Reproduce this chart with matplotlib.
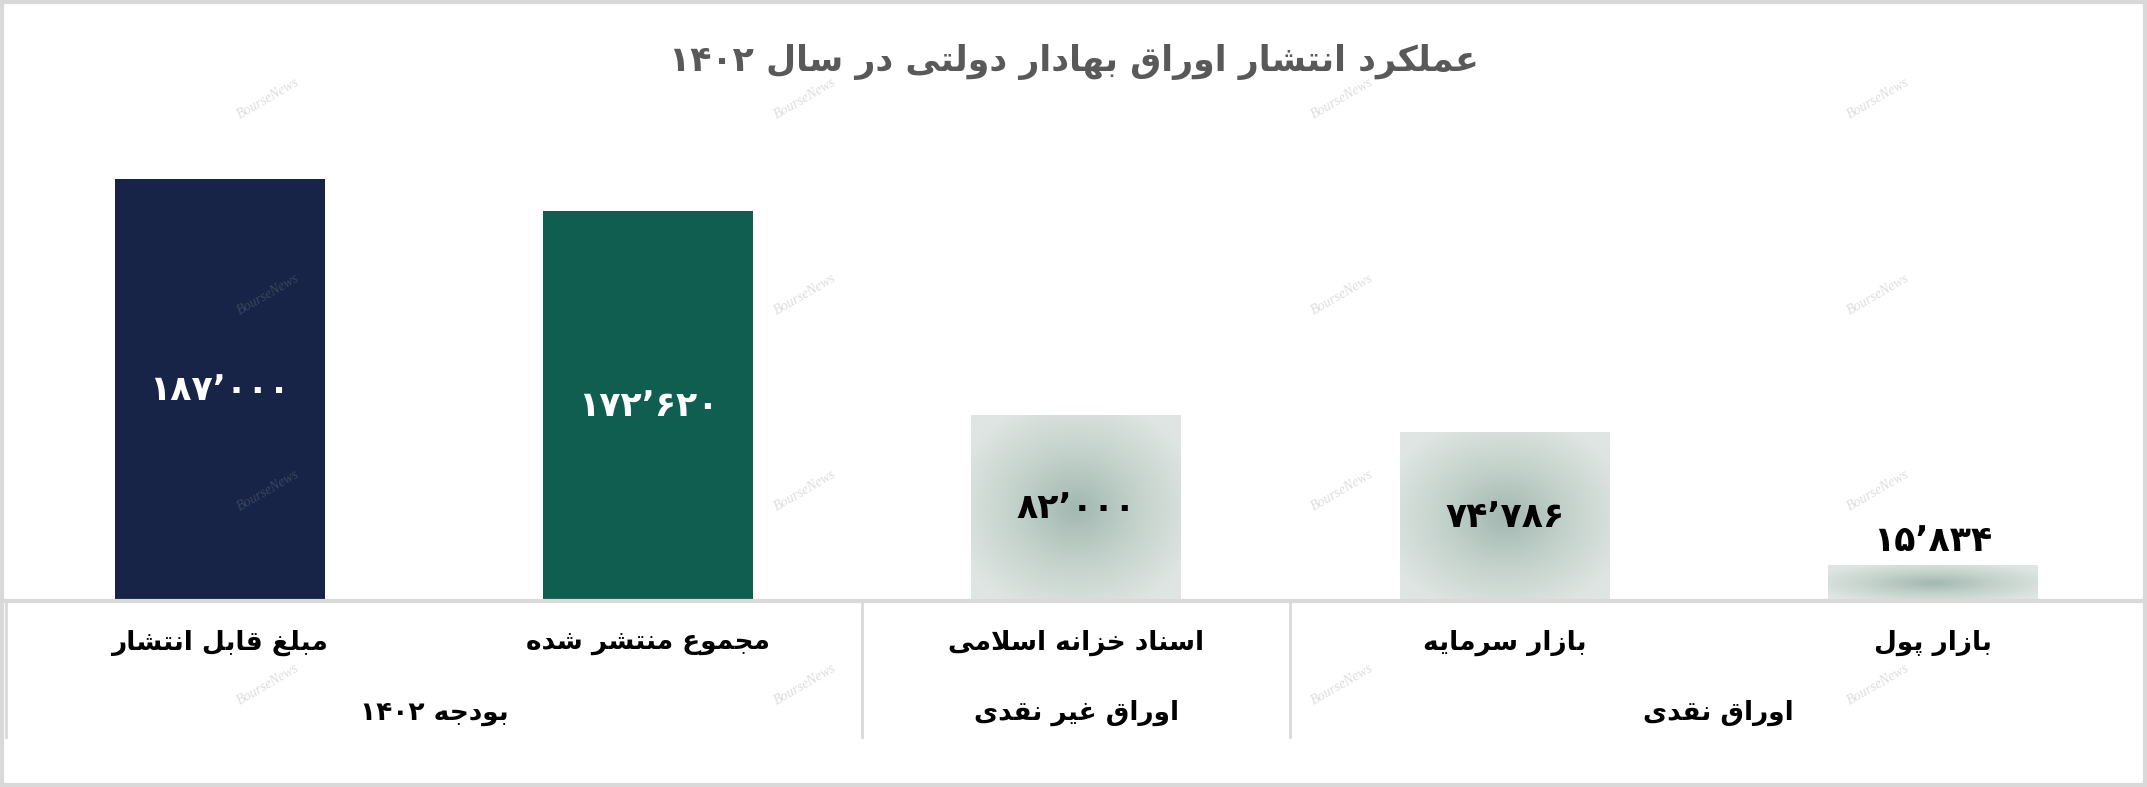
import re
import numpy as np
import matplotlib
matplotlib.use('Agg')
import matplotlib.pyplot as plt
from matplotlib.colors import LinearSegmentedColormap

# data
categories = ['مبلغ قابل انتشار', 'مجموع منتشر شده', 'اسناد خزانه اسلامی', 'بازار سرمایه', 'بازار پول']
values = [187000, 172620, 82000, 74786, 15834]
value_labels = ['۱۸۷٬۰۰۰', '۱۷۲٬۶۲۰', '۸۲٬۰۰۰', '۷۴٬۷۸۶', '۱۵٬۸۳۴']
groups = ['بودجه ۱۴۰۲', 'اوراق غیر نقدی', 'اوراق نقدی']
group_sizes = [2, 1, 2]
title = 'عملکرد انتشار اوراق بهادار دولتی در سال ۱۴۰۲'
watermark = 'BourseNews'

solid_colors = ['#172448', '#0f5e50', None, None, None]

# minimal arabic/persian shaping (matplotlib has no complex text layout)
FORMS = {
    'ا': ('\uFE8D', '\uFE8E', None, None),
    'آ': ('\uFE81', '\uFE82', None, None),
    'ب': ('\uFE8F', '\uFE90', '\uFE91', '\uFE92'),
    'پ': ('\uFB56', '\uFB57', '\uFB58', '\uFB59'),
    'ت': ('\uFE95', '\uFE96', '\uFE97', '\uFE98'),
    'ج': ('\uFE9D', '\uFE9E', '\uFE9F', '\uFEA0'),
    'خ': ('\uFEA5', '\uFEA6', '\uFEA7', '\uFEA8'),
    'د': ('\uFEA9', '\uFEAA', None, None),
    'ر': ('\uFEAD', '\uFEAE', None, None),
    'ز': ('\uFEAF', '\uFEB0', None, None),
    'س': ('\uFEB1', '\uFEB2', '\uFEB3', '\uFEB4'),
    'ش': ('\uFEB5', '\uFEB6', '\uFEB7', '\uFEB8'),
    'ع': ('\uFEC9', '\uFECA', '\uFECB', '\uFECC'),
    'غ': ('\uFECD', '\uFECE', '\uFECF', '\uFED0'),
    'ق': ('\uFED5', '\uFED6', '\uFED7', '\uFED8'),
    'ک': ('\uFB8E', '\uFB8F', '\uFB90', '\uFB91'),
    'ل': ('\uFEDD', '\uFEDE', '\uFEDF', '\uFEE0'),
    'م': ('\uFEE1', '\uFEE2', '\uFEE3', '\uFEE4'),
    'ن': ('\uFEE5', '\uFEE6', '\uFEE7', '\uFEE8'),
    'ه': ('\uFEE9', '\uFEEA', '\uFEEB', '\uFEEC'),
    'و': ('\uFEED', '\uFEEE', None, None),
    'ی': ('\uFBFC', '\uFBFD', '\uFBFE', '\uFBFF'),
}


def fa(s):
    out = []
    i = 0
    n = len(s)
    while i < n:
        c = s[i]
        if c not in FORMS:
            out.append(c)
            i += 1
            continue
        prev = s[i - 1] if i > 0 else ''
        prev_joins = prev in FORMS and FORMS[prev][2] is not None
        if c == 'ل' and i + 1 < n and s[i + 1] == 'ا':
            out.append('\uFEFC' if prev_joins else '\uFEFB')
            i += 2
            continue
        nxt = s[i + 1] if i + 1 < n else ''
        next_joins = nxt in FORMS and FORMS[c][2] is not None
        iso, fin, ini, med = FORMS[c]
        if prev_joins and next_joins:
            out.append(med)
        elif prev_joins:
            out.append(fin)
        elif next_joins:
            out.append(ini)
        else:
            out.append(iso)
        i += 1
    vis = ''.join(out)[::-1]
    return re.sub('[۰-۹٬0-9]+', lambda m: m.group(0)[::-1], vis)


plt.rcParams['font.family'] = ['DejaVu Sans']

fig = plt.figure(figsize=(21.47, 7.87), dpi=100)
ax = fig.add_axes([0.0026, 1 - 601 / 787, 0.9974, (601 - 179) / 787])

x = np.arange(len(categories))
bars = ax.bar(x, values, width=0.49, color=[c if c else 'none' for c in solid_colors],
              edgecolor='none', zorder=2)

# radial gradient fill for the light bars
cmap = LinearSegmentedColormap.from_list('g', ['#a2b8b0', '#c4d2cc', '#dfe5e2'])
gy, gx = np.mgrid[-1:1:200j, -1:1:200j]
r = np.clip(np.sqrt(gx ** 2 + gy ** 2) / 1.2, 0, 1)
for b, c in zip(bars, solid_colors):
    if c is None:
        ax.imshow(r, cmap=cmap, vmin=0, vmax=1, aspect='auto', zorder=2,
                  extent=(b.get_x(), b.get_x() + b.get_width(), 0, b.get_height()))
ax.set_xlim(-0.5, len(categories) - 0.5)
ax.set_ylim(0, max(values))

# value labels
for b, lab, c in zip(bars, value_labels, solid_colors):
    h = b.get_height()
    cx = b.get_x() + b.get_width() / 2
    if h > 0.2 * max(values):
        ax.text(cx, h / 2, lab, ha='center', va='center', fontsize=25, fontweight='bold',
                color='white' if c else 'black', zorder=3)
    else:
        ax.text(cx, h + 0.058 * max(values), lab, ha='center', va='center', fontsize=25,
                fontweight='bold', color='black', zorder=3)

for s in ax.spines.values():
    s.set_visible(False)
ax.set_xticks([])
ax.set_yticks([])

# table under the bars
tr = ax.get_xaxis_transform()
line_c = '#d9d9d9'
ax.plot([-0.5, len(categories) - 0.5], [0, 0], transform=tr, color=line_c, lw=3,
        clip_on=False, zorder=4)
bounds = np.concatenate([[0], np.cumsum(group_sizes)]) - 0.5
for bx in bounds[:-1]:
    ax.plot([bx, bx], [0, -0.322], transform=tr, color=line_c, lw=2, clip_on=False)

for xi, cat in zip(x, categories):
    ax.text(xi, -0.1, fa(cat), transform=tr, ha='center', va='center', fontsize=19,
            fontweight='bold', color='black')
for g, a, b in zip(groups, bounds[:-1], bounds[1:]):
    ax.text((a + b) / 2, -0.265, fa(g), transform=tr, ha='center', va='center',
            fontsize=19, fontweight='bold', color='black')

fig.text(0.5, 1 - 62 / 787, fa(title), ha='center', va='center', fontsize=25,
         fontweight='bold', color='#595959')

# watermark
for wy in [0.875, 0.625, 0.377, 0.13]:
    for wx in [0.125, 0.375, 0.625, 0.875]:
        fig.text(wx, wy, watermark, ha='center', va='center', rotation=30, fontsize=10,
                 family='Liberation Serif', style='italic', color='#909090', alpha=0.3,
                 zorder=10)

# outer frame
fig.patches.append(plt.Rectangle((0.001, 0.002), 0.998, 0.996, transform=fig.transFigure,
                                 fill=False, edgecolor='#d9d9d9', lw=3))

fig.savefig('out.png', dpi=100)
